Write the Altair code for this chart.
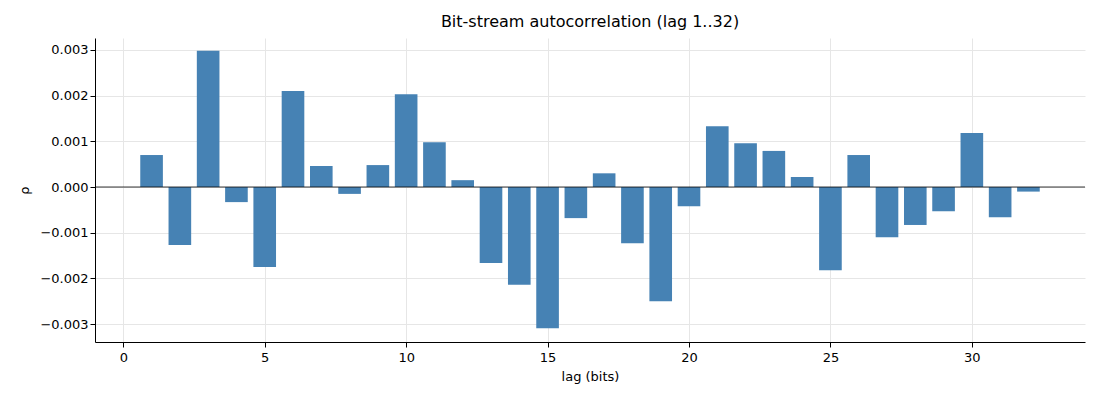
import altair as alt
import pandas as pd

# ─────────────────────────────────────────────────────────────────────────────
# DATI
# ─────────────────────────────────────────────────────────────────────────────
lags = list(range(1, 33))
rho = [
    0.00070, -0.00127, 0.00298, -0.00033, -0.00175, 0.00210, 0.00046, -0.00015,
    0.00048, 0.00203, 0.00098, 0.00015, -0.00166, -0.00214, -0.00309, -0.00068,
    0.00030, -0.00123, -0.00250, -0.00042, 0.00133, 0.00096, 0.00079, 0.00022,
    -0.00182, 0.00070, -0.00110, -0.00083, -0.00053, 0.00118, -0.00066, -0.00010,
]

df = pd.DataFrame({"lag": lags, "rho": rho})

# ─────────────────────────────────────────────────────────────────────────────
# GRAFICO
# ─────────────────────────────────────────────────────────────────────────────
base = alt.Chart(df).transform_calculate(
    x0="datum.lag - 0.4", x1="datum.lag + 0.4"
)

bars = base.mark_bar(color="#4682b4").encode(
    x=alt.X(
        "x0:Q",
        title="lag (bits)",
        scale=alt.Scale(domain=[-1, 34], nice=False, zero=False),
        axis=alt.Axis(values=[0, 5, 10, 15, 20, 25, 30], format="d"),
    ),
    x2="x1:Q",
    y=alt.Y(
        "rho:Q",
        title="ρ",
        scale=alt.Scale(domain=[-0.00339, 0.00326], nice=False),
        axis=alt.Axis(values=[-0.003, -0.002, -0.001, 0, 0.001, 0.002, 0.003], format=".3f"),
    ),
    y2=alt.datum(0),
)

zero = alt.Chart(pd.DataFrame({"y": [0]})).mark_rule(color="black", strokeWidth=0.8).encode(y="y:Q")

chart = (
    (bars + zero)
    .properties(
        width=990,
        height=304,
        title="Bit-stream autocorrelation (lag 1..32)",
        autosize=alt.AutoSizeParams(type="none"),
        padding={"left": 87, "top": 30, "right": 7, "bottom": 50},
    )
    .configure_view(stroke=None)
    .configure_title(font="DejaVu Sans", fontSize=16, fontWeight="normal", offset=8)
    .configure_axis(
        labelFont="DejaVu Sans",
        titleFont="DejaVu Sans",
        labelFontSize=13,
        titleFontSize=13,
        titleFontWeight="normal",
        labelColor="black",
        titleColor="black",
        domainColor="black",
        tickColor="black",
        gridColor="#e6e6e6",
        gridOpacity=1,
    )
    .configure_axisX(labelPadding=4, titlePadding=6)
    .configure_axisY(titlePadding=8)
)

chart.save("out.html", embed_options={"renderer": "svg", "actions": False})
